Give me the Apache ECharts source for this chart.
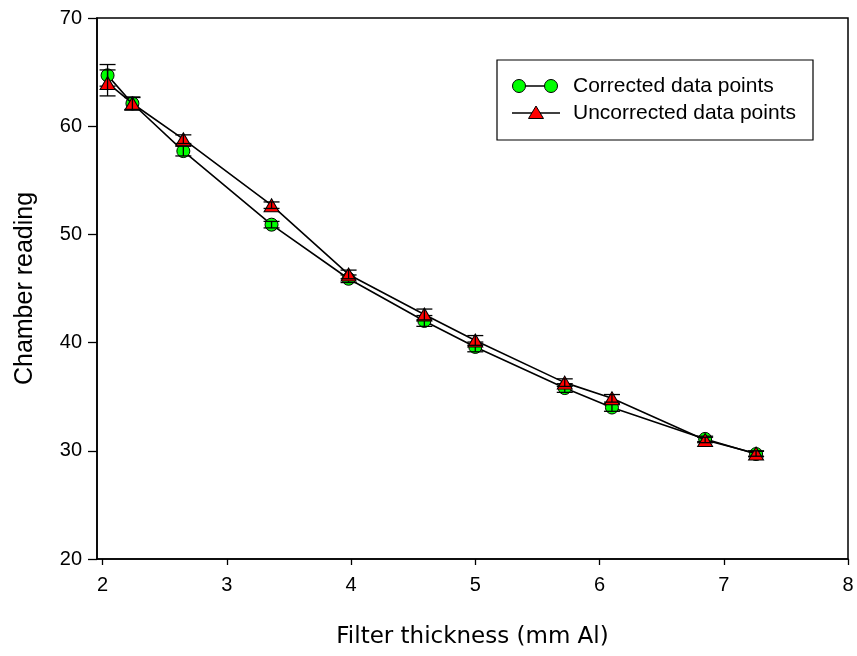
<!DOCTYPE html>
<html>
<head>
<meta charset="utf-8">
<script src="https://cdn.jsdelivr.net/npm/echarts@6/dist/echarts.min.js"></script>
<style>html,body{margin:0;padding:0;background:#fff}#c{width:857px;height:656px}</style>
</head>
<body>
<div id="c"></div>
<script>
const xVals = [2.04, 2.24, 2.65, 3.36, 3.98, 4.59, 5.00, 5.72, 6.10, 6.85, 7.26];
const corrected = [64.7, 62.1, 57.7, 50.9, 45.9, 42.0, 39.6, 35.8, 34.0, 31.1, 29.7];
const correctedErr = [1.0, 0.6, 0.45, 0.3, 0.35, 0.5, 0.45, 0.4, 0.35, 0.25, 0.25];
const uncorrected = [64.0, 62.1, 58.8, 52.7, 46.3, 42.6, 40.2, 36.3, 34.85, 31.0, 29.75];
const uncorrectedErr = [1.2, 0.55, 0.4, 0.3, 0.4, 0.5, 0.45, 0.35, 0.35, 0.25, 0.25];
const xTicks = [2, 3, 4, 5, 6, 7, 8];
const seriesNames = ['Corrected data points', 'Uncorrected data points'];

const chart = echarts.init(document.getElementById('c'), null, {renderer: 'canvas'});
const font = '"Liberation Sans", Arial, sans-serif';

function errRender(params, api) {
  const x = api.value(0), y = api.value(1), e = api.value(2);
  const top = api.coord([x, y + e]);
  const bot = api.coord([x, y - e]);
  const hw = 8;
  const st = {stroke: '#000', lineWidth: 1.3};
  return {
    type: 'group',
    children: [
      {type: 'line', shape: {x1: top[0], y1: top[1], x2: bot[0], y2: bot[1]}, style: st},
      {type: 'line', shape: {x1: top[0] - hw, y1: top[1], x2: top[0] + hw, y2: top[1]}, style: st},
      {type: 'line', shape: {x1: bot[0] - hw, y1: bot[1], x2: bot[0] + hw, y2: bot[1]}, style: st}
    ]
  };
}

const corrData = xVals.map((x, i) => [x, corrected[i]]);
const uncData = xVals.map((x, i) => [x, uncorrected[i]]);
const corrErrData = xVals.map((x, i) => [x, corrected[i], correctedErr[i]]);
const uncErrData = xVals.map((x, i) => [x, uncorrected[i], uncorrectedErr[i]]);

const L = {left: 497, top: 60, w: 316, h: 80, r1: 86, r2: 113};

chart.setOption({
  animation: false,
  backgroundColor: '#fff',
  grid: {left: 97, right: 9, top: 18, bottom: 97, show: true, borderColor: '#000', borderWidth: 1.5, backgroundColor: 'transparent'},
  xAxis: {
    type: 'value', min: 1.955, max: 8,
    name: 'Filter thickness (mm Al)', nameLocation: 'middle', nameGap: 67,
    nameTextStyle: {fontFamily: '"DejaVu Sans", sans-serif', fontSize: 23, color: '#000'},
    axisLine: {show: true, onZero: false, lineStyle: {color: '#000', width: 1.6}},
    axisTick: {show: true, customValues: xTicks, length: 6, inside: false, lineStyle: {color: '#000', width: 1.3}},
    axisLabel: {customValues: xTicks, margin: 16, fontFamily: font, fontSize: 20, color: '#000'},
    splitLine: {show: false}
  },
  yAxis: {
    type: 'value', min: 20, max: 70, interval: 10,
    name: 'Chamber reading', nameLocation: 'middle', nameGap: 59,
    nameTextStyle: {fontFamily: font, fontSize: 25, color: '#000'},
    axisLine: {show: true, onZero: false, lineStyle: {color: '#000', width: 1.6}},
    axisTick: {show: true, length: 9, lineStyle: {color: '#000', width: 1.3}},
    axisLabel: {margin: 15, fontFamily: font, fontSize: 20, color: '#000'},
    splitLine: {show: false}
  },
  series: [
    {name: seriesNames[0], type: 'line', data: corrData, symbol: 'circle', symbolSize: 13,
     lineStyle: {color: '#000', width: 1.6}, itemStyle: {color: '#00ff00', borderColor: '#000', borderWidth: 1}, z: 2},
    {name: seriesNames[0] + ' err', type: 'custom', data: corrErrData, renderItem: errRender, z: 3,
     encode: {x: 0, y: 1}},
    {name: seriesNames[1], type: 'line', data: uncData, symbol: 'triangle', symbolSize: [15, 13],
     lineStyle: {color: '#000', width: 1.6}, itemStyle: {color: '#ff0000', borderColor: '#000', borderWidth: 1}, z: 4},
    {name: seriesNames[1] + ' err', type: 'custom', data: uncErrData, renderItem: errRender, z: 5,
     encode: {x: 0, y: 1}}
  ],
  graphic: [
    {type: 'rect', shape: {x: L.left, y: L.top, width: L.w, height: L.h}, style: {fill: '#fff', stroke: '#000', lineWidth: 1.2}, z: 100},
    {type: 'line', shape: {x1: 519, y1: L.r1, x2: 551, y2: L.r1}, style: {stroke: '#000', lineWidth: 1.5}, z: 101},
    {type: 'circle', shape: {cx: 519, cy: L.r1, r: 6.5}, style: {fill: '#00ff00', stroke: '#000', lineWidth: 1}, z: 102},
    {type: 'circle', shape: {cx: 551, cy: L.r1, r: 6.5}, style: {fill: '#00ff00', stroke: '#000', lineWidth: 1}, z: 102},
    {type: 'text', x: 573, y: L.r1, style: {text: seriesNames[0], fontFamily: font, fontSize: 21, fill: '#000', verticalAlign: 'middle'}, z: 102},
    {type: 'line', shape: {x1: 512, y1: L.r2, x2: 560, y2: L.r2}, style: {stroke: '#000', lineWidth: 1.5}, z: 101},
    {type: 'polygon', shape: {points: [[536, L.r2 - 7], [543.5, L.r2 + 5.5], [528.5, L.r2 + 5.5]]}, style: {fill: '#ff0000', stroke: '#000', lineWidth: 1}, z: 102},
    {type: 'text', x: 573, y: L.r2, style: {text: seriesNames[1], fontFamily: font, fontSize: 21, fill: '#000', verticalAlign: 'middle'}, z: 102}
  ]
});
</script>
</body>
</html>
